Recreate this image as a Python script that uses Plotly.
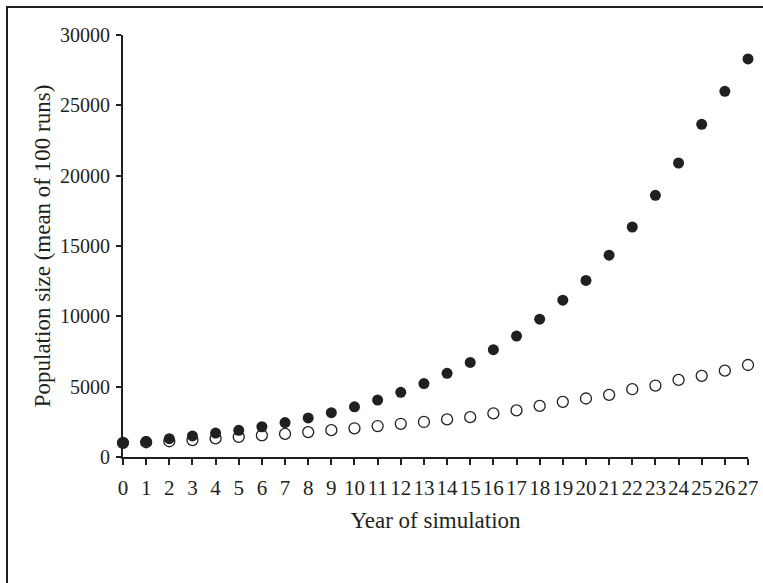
import plotly.graph_objects as go

years = list(range(28))
filled_pop = [1000, 1100, 1300, 1500, 1700, 1900, 2150, 2450, 2780, 3150,
              3570, 4050, 4600, 5220, 5950, 6720, 7630, 8600, 9800, 11150,
              12550, 14350, 16350, 18600, 20900, 23650, 26000, 28300]
open_pop = [1000, 1050, 1120, 1200, 1320, 1430, 1540, 1640, 1770, 1910,
            2040, 2200, 2360, 2490, 2670, 2830, 3100, 3310, 3630, 3920,
            4160, 4420, 4820, 5080, 5480, 5770, 6140, 6540]
y_ticks = [0, 5000, 10000, 15000, 20000, 25000, 30000]

ink = "#231f20"
font = "Liberation Serif"

fig = go.Figure()
fig.add_trace(go.Scatter(
    x=years, y=open_pop, mode="markers",
    marker=dict(symbol="circle-open", size=11, color=ink, line=dict(width=1.3, color=ink)),
    cliponaxis=False, showlegend=False))
fig.add_trace(go.Scatter(
    x=years, y=filled_pop, mode="markers",
    marker=dict(symbol="circle", size=11, color=ink, line=dict(width=0)),
    cliponaxis=False, showlegend=False))

L, R, T, B = 123, 15, 35, 126
W, H = 763, 583
pw, ph = W - L - R, H - T - B

fig.update_layout(
    width=W, height=H,
    margin=dict(l=L, r=R, t=T, b=B, autoexpand=False),
    paper_bgcolor="white", plot_bgcolor="white",
    font=dict(family=font, size=20, color=ink),
    xaxis=dict(range=[0, 27], tickvals=years, ticktext=[str(v) for v in years],
               showgrid=False, zeroline=False, showline=True, linecolor=ink, linewidth=2,
               ticks="outside", ticklen=6, tickwidth=2, tickcolor=ink,
               ticklabelstandoff=5, tickangle=0, automargin=False,
               tickfont=dict(family=font, size=21, color=ink),
               title=dict(text="Year of simulation", font=dict(family=font, size=23, color=ink),
                          standoff=13)),
    yaxis=dict(range=[0, 30000], tickvals=y_ticks, ticktext=[str(v) for v in y_ticks],
               showgrid=False, zeroline=False, showline=True, linecolor=ink, linewidth=2,
               ticks="outside", ticklen=5, tickwidth=2, tickcolor=ink,
               ticklabelstandoff=2, automargin=False,
               tickfont=dict(family=font, size=20, color=ink),
               title=dict(text="Population size (mean of 100 runs)",
                          font=dict(family=font, size=23, color=ink), standoff=3)),
)

fig.add_shape(type="rect", xref="paper", yref="paper",
              x0=(7 - L) / pw, x1=(775 - L) / pw,
              y0=(H - B - 595) / ph, y1=(H - B - 7) / ph,
              line=dict(color=ink, width=2), layer="below")

fig.write_html("out.html", config={"displayModeBar": False},
               post_script="document.body.style.margin='0';")
